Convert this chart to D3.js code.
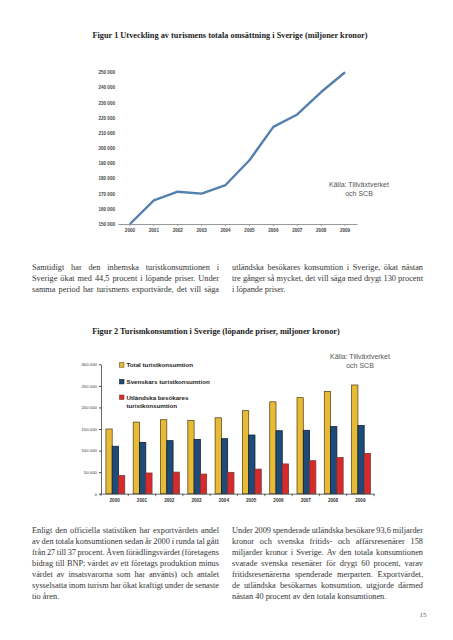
<!DOCTYPE html>
<html>
<head>
<meta charset="utf-8">
<script src="https://cdn.jsdelivr.net/npm/d3@7"></script>
<style>
  body { margin: 0; background: #fff; }
  svg { display: block; }
</style>
</head>
<body>
<div id="page"></div>
<script>
// data
const years = ["2000", "2001", "2002", "2003", "2004", "2005", "2006", "2007", "2008", "2009"];
const omsattning = [150000, 165600, 171300, 170000, 175700, 192000, 214000, 222200, 237000, 250000];
const totalKons = [150000, 166000, 171500, 170000, 176000, 192500, 213000, 222700, 237000, 252000];
const svenskKons = [110000, 119000, 123000, 126000, 127500, 136000, 146000, 147000, 155500, 158000];
const utlandskKons = [42000, 48000, 50000, 45500, 49500, 57000, 69000, 76500, 84000, 93600];
const seriesNames = ["Total turistkonsumtion", "Svenskars turistkonsumtion", "Utländska besökares turistkonsumtion"];
const yTicks1 = [150000, 160000, 170000, 180000, 190000, 200000, 210000, 220000, 230000, 240000, 250000];
const yTicks2 = [0, 50000, 100000, 150000, 200000, 250000, 300000];

const title1 = "Figur 1 Utveckling av turismens totala omsättning i Sverige (miljoner kronor)";
const title2 = "Figur 2 Turismkonsumtion i Sverige (löpande priser, miljoner kronor)";
const kalla = ["Källa: Tillväxtverket", "och SCB"];

const para1Left = [
  "Samtidigt har den inhemska turistkonsumtionen i",
  "Sverige ökat med 44,5 procent i löpande priser. Under",
  "samma period har turismens exportvärde, det vill säga"];
const para1Right = [
  "utländska besökares konsumtion i Sverige, ökat nästan",
  "tre gånger så mycket, det vill säga med drygt 130 procent",
  "i löpande priser."];
const para2Left = [
  "Enligt den officiella statistiken har exportvärdets andel",
  "av den totala konsumtionen sedan år 2000 i runda tal gått",
  "från 27 till 37 procent. Även förädlingsvärdet (företagens",
  "bidrag till BNP; värdet av ett företags produktion minus",
  "värdet av insatsvarorna som har använts) och antalet",
  "sysselsatta inom turism har ökat kraftigt under de senaste",
  "tio åren."];
const para2Right = [
  "Under 2009 spenderade utländska besökare 93,6 miljarder",
  "kronor och svenska fritids- och affärsresenärer 158",
  "miljarder kronor i Sverige. Av den totala konsumtionen",
  "svarade svenska resenärer för drygt 60 procent, varav",
  "fritidsresenärerna spenderade merparten. Exportvärdet,",
  "de utländska besökarnas konsumtion, utgjorde därmed",
  "nästan 40 procent av den totala konsumtionen."];

const W = 453, H = 640;
const serif = "'Liberation Serif', 'DejaVu Serif', serif";
const sans = "'Liberation Sans', Arial, sans-serif";
const fmt = v => d3.format(",")(v).replace(/,/g, " ");

const svg = d3.select("#page").append("svg")
  .attr("width", W).attr("height", H)
  .style("background", "#fff");

// justified body text, one word per tspan
function textBlock(lines, x0, x1, y0, lh) {
  const g = svg.append("g")
    .attr("font-family", serif).attr("font-size", 8.3).attr("fill", "#333");
  lines.forEach(function(line, i) {
    const t = g.append("text").attr("y", y0 + i * lh);
    const words = line.split(" ");
    const spans = words.map(w => t.append("tspan").text(w));
    const widths = spans.map(s => s.node().getComputedTextLength());
    const total = d3.sum(widths);
    const last = i == lines.length - 1 && line.endsWith(".");
    let gap = last ? 2.1 : (x1 - x0 - total) / (words.length - 1);
    let x = x0;
    spans.forEach(function(s, j) {
      s.attr("x", x);
      x += widths[j] + gap;
    });
  });
}

// ---------- Figur 1 ----------
svg.append("text")
  .attr("x", 230).attr("y", 38)
  .attr("text-anchor", "middle")
  .attr("font-family", serif).attr("font-weight", "bold")
  .attr("font-size", 8.3).attr("fill", "#222")
  .text(title1);

const x1 = d3.scaleBand().domain(years).range([118, 357]);
const y1 = d3.scaleLinear().domain([150000, 250000]).range([224, 72.3]);

const ax1 = svg.append("g")
  .attr("transform", "translate(0,224)")
  .call(d3.axisBottom(x1).tickSize(2).tickSizeOuter(0).tickPadding(3));
ax1.select(".domain").attr("stroke", "#999").attr("stroke-width", 1.2);
ax1.selectAll(".tick line").attr("stroke", "#999");
ax1.selectAll(".tick text")
  .attr("font-family", sans).attr("font-size", 4.6).attr("font-weight", "bold").attr("fill", "#444");

const ay1 = svg.append("g")
  .attr("transform", "translate(117,0)")
  .call(d3.axisLeft(y1).tickValues(yTicks1).tickFormat(fmt).tickSize(0).tickPadding(2));
ay1.select(".domain").remove();
ay1.selectAll(".tick text")
  .attr("font-family", sans).attr("font-size", 4.6).attr("font-weight", "bold").attr("fill", "#444");

const line = d3.line()
  .x((d, i) => x1(years[i]) + x1.bandwidth() / 2)
  .y(d => y1(d));
svg.append("path")
  .datum(omsattning)
  .attr("d", line)
  .attr("fill", "none")
  .attr("stroke", "#5480ad")
  .attr("stroke-width", 2.4)
  .attr("stroke-linejoin", "round");

svg.append("g").selectAll("text")
  .data(kalla).enter().append("text")
  .attr("x", 359).attr("y", (d, i) => 186.5 + i * 9)
  .attr("text-anchor", "middle")
  .attr("font-family", sans).attr("font-size", 7).attr("fill", "#555")
  .text(d => d);

// ---------- text between the charts ----------
textBlock(para1Left, 32, 219, 270, 11);
textBlock(para1Right, 232, 423, 270, 11);

// ---------- Figur 2 ----------
svg.append("text")
  .attr("x", 216).attr("y", 334)
  .attr("text-anchor", "middle")
  .attr("font-family", serif).attr("font-weight", "bold")
  .attr("font-size", 8.3).attr("fill", "#222")
  .text(title2);

const x2 = d3.scaleBand().domain(years).range([101, 374]);
const xs = d3.scaleBand().domain([0, 1, 2]).range([x2.bandwidth() * 0.18, x2.bandwidth() * 0.87]);
const y2 = d3.scaleLinear().domain([0, 300000]).range([493.7, 364.3]);

const fills = ["#e8bb37", "#1f4b78", "#d92a2b"];
const strokes = ["#5e4d1f", "#0d1f33", "#7a3a3a"];
const series = [totalKons, svenskKons, utlandskKons];

series.forEach(function(vals, s) {
  svg.append("g").selectAll("rect")
    .data(vals).enter().append("rect")
    .attr("x", (d, i) => x2(years[i]) + xs(s))
    .attr("y", d => y2(d))
    .attr("width", xs.bandwidth())
    .attr("height", d => y2(0) - y2(d))
    .attr("fill", fills[s])
    .attr("stroke", strokes[s])
    .attr("stroke-width", 0.8);
});

const ay2 = svg.append("g")
  .attr("transform", "translate(101,0)")
  .call(d3.axisLeft(y2).tickValues(yTicks2).tickFormat(fmt).tickSize(2).tickSizeOuter(0).tickPadding(2));
ay2.select(".domain").attr("stroke", "#444").attr("stroke-width", 0.8);
ay2.selectAll(".tick line").attr("stroke", "#444");
ay2.selectAll(".tick text")
  .attr("font-family", sans).attr("font-size", 4.3).attr("fill", "#333");

const ax2 = svg.append("g")
  .attr("transform", "translate(0,493.7)")
  .call(d3.axisBottom(x2).tickSize(0).tickPadding(5));
ax2.select(".domain").attr("stroke", "#444").attr("stroke-width", 0.8);
ax2.selectAll(".tick text")
  .attr("font-family", sans).attr("font-size", 4.6).attr("font-weight", "bold").attr("fill", "#333");
// tick marks between the year groups
svg.append("g").selectAll("line")
  .data(years.concat(["end"])).enter().append("line")
  .attr("x1", (d, i) => i < years.length ? x2(d) : x2.range()[1])
  .attr("x2", (d, i) => i < years.length ? x2(d) : x2.range()[1])
  .attr("y1", 493.7).attr("y2", 496.2)
  .attr("stroke", "#444").attr("stroke-width", 0.8);

// legend
const legY = [365, 381.7, 397.3];
const legend = svg.append("g").attr("font-family", sans).attr("font-size", 6.2)
  .attr("font-weight", "bold").attr("fill", "#222");
seriesNames.forEach(function(name, i) {
  legend.append("rect")
    .attr("x", 119.5).attr("y", legY[i] - 2.3)
    .attr("width", 4.5).attr("height", 4.5)
    .attr("fill", fills[i]).attr("stroke", strokes[i]).attr("stroke-width", 0.6);
  const parts = i == 2 ? ["Utländska besökares", "turistkonsumtion"] : [name];
  parts.forEach(function(p, k) {
    legend.append("text")
      .attr("x", 126.5).attr("y", legY[i] + 2.2 + k * 8.5)
      .text(p);
  });
});

svg.append("g").selectAll("text")
  .data(kalla).enter().append("text")
  .attr("x", 360).attr("y", (d, i) => 359 + i * 9)
  .attr("text-anchor", "middle")
  .attr("font-family", sans).attr("font-size", 7).attr("fill", "#555")
  .text(d => d);

// ---------- text below ----------
textBlock(para2Left, 32, 219, 533, 11);
textBlock(para2Right, 232, 423, 533, 11);

svg.append("text")
  .attr("x", 423).attr("y", 617)
  .attr("text-anchor", "middle")
  .attr("font-family", serif).attr("font-size", 7).attr("fill", "#555")
  .text("15");
</script>
</body>
</html>
